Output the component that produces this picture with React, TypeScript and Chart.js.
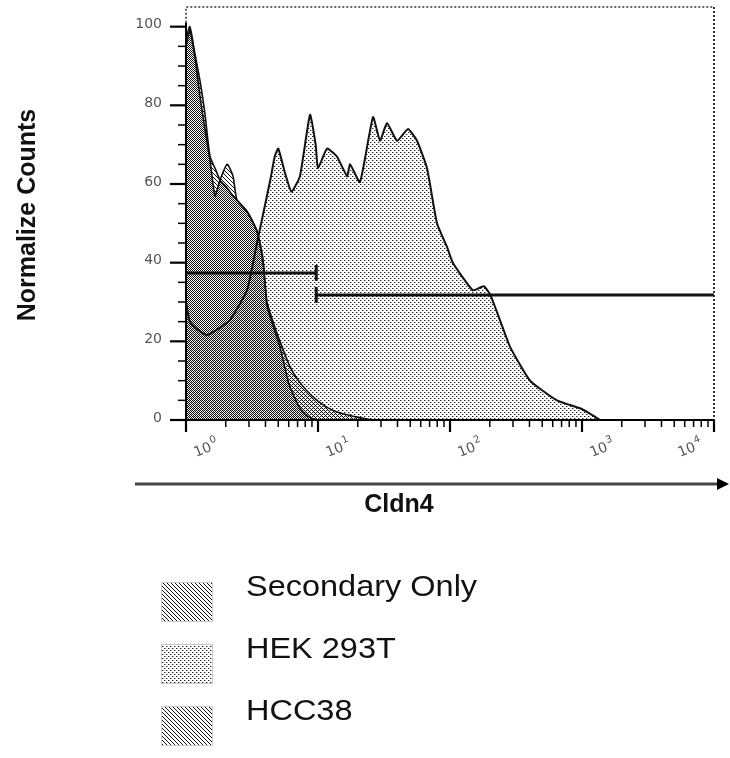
import React, { useEffect, useRef } from "react";
import { Chart, registerables } from "chart.js";

Chart.register(...registerables);

// ---- data ----
const secondaryX = [1, 1.07, 1.17, 1.28, 1.39, 1.52, 1.66, 1.81, 2.05, 2.27, 2.9, 3.45, 3.83, 4.11, 4.56, 5.15, 5.82, 6.14, 7.3, 8.2, 9.2, 10];
const secondaryY = [97, 100, 93, 86, 78, 67, 64, 61, 59, 57, 53, 48, 41, 29, 24, 18.6, 11, 8.4, 3, 1.2, 0.3, 0];

const hekX = [1, 1.07, 1.28, 1.44, 1.81, 2.15, 2.9, 3.45, 4.35, 4.7, 5.0, 5.6, 6.3, 7.3, 8.7, 9.6, 10, 11.7, 13.9, 16.6, 17.5, 20.8, 26.1, 29.5, 33.3, 39.7, 48.1, 56.2, 67, 79.7, 94.9, 105, 149, 180, 201, 239, 285, 404, 646, 966, 1100, 1368];
const hekY = [30, 25, 22.5, 21.6, 23.5, 25.4, 33, 45, 61, 67, 69, 63, 58, 62, 77.6, 70, 64, 69, 67, 62, 65, 60.5, 77, 71, 75.5, 71, 74, 71, 64, 50, 44, 40, 33, 34, 32, 25.4, 18.6, 10, 5, 3, 2, 0];

const hcc38X = [1, 1.07, 1.17, 1.28, 1.39, 1.52, 1.66, 1.81, 2.05, 2.27, 2.43, 2.9, 3.45, 3.83, 4.11, 4.56, 5.15, 6.14, 7.3, 9.16, 11.7, 14.7, 20.8, 26];
const hcc38Y = [95, 99, 92, 82, 74, 66, 57, 61, 65, 62, 56, 53, 48, 40, 30, 25, 20, 13.5, 9.5, 5.9, 3.2, 1.8, 0.6, 0];

const gateLowX = [1, 9.7];
const gateLowY = 37.4;
const gateHighX = [9.7, 10000];
const gateHighY = 31.8;

const yTickValues = [0, 20, 40, 60, 80, 100];
const yMinorStep = 5;
const xTickValues = [1, 10, 100, 1000, 10000];
const xTickExponents = ["0", "1", "2", "3", "4"];

const seriesNames = ["Secondary Only", "HEK 293T", "HCC38"];
const xTitle = "Cldn4";
const yTitle = "Normalize Counts";

// ---- patterns ----
function makePattern(size: number, paint: (c: CanvasRenderingContext2D) => void): CanvasPattern {
  const tile = document.createElement("canvas");
  tile.width = size;
  tile.height = size;
  const c = tile.getContext("2d")!;
  paint(c);
  return c.createPattern(tile, "repeat")!;
}

function toPoints(xs: number[], ys: number[]) {
  return xs.map((x, i) => ({ x, y: ys[i] }));
}

export default function App() {
  const ref = useRef<HTMLCanvasElement | null>(null);

  useEffect(() => {
    document.body.style.margin = "0";
    const canvas = ref.current!;

    const hatchA = makePattern(4, (c) => {
      c.fillStyle = "#111";
      for (let i = 0; i < 4; i++) c.fillRect(i, i, 1, 1);
    });
    const hatchC = makePattern(4, (c) => {
      c.fillStyle = "#111";
      for (let i = 0; i < 4; i++) c.fillRect(i, (i + 2) % 4, 1, 1);
    });
    const dots = makePattern(4, (c) => {
      c.fillStyle = "#222";
      c.fillRect(0, 0, 1, 1);
      c.fillRect(2, 2, 1, 1);
      c.fillStyle = "#aaa";
      c.fillRect(1, 0, 1, 1);
      c.fillRect(3, 2, 1, 1);
    });
    const legendFills = [hatchA, dots, hatchC];

    const decor = {
      id: "decor",
      afterDraw(chart: any) {
        const ctx: CanvasRenderingContext2D = chart.ctx;
        const xs = chart.scales.x;
        const ys = chart.scales.y;
        const a = chart.chartArea;
        ctx.save();

        // dotted frame (top & right)
        ctx.strokeStyle = "#333";
        ctx.lineWidth = 1.5;
        ctx.setLineDash([2, 2]);
        ctx.beginPath();
        ctx.moveTo(a.left, ys.getPixelForValue(101));
        ctx.lineTo(a.left, a.top);
        ctx.lineTo(a.right, a.top);
        ctx.stroke();
        ctx.lineWidth = 2;
        ctx.beginPath();
        ctx.moveTo(a.right, a.top);
        ctx.lineTo(a.right, a.bottom);
        ctx.stroke();
        ctx.setLineDash([]);

        // left axis
        ctx.strokeStyle = "#000";
        ctx.lineWidth = 2;
        ctx.beginPath();
        ctx.moveTo(a.left, ys.getPixelForValue(101));
        ctx.lineTo(a.left, a.bottom + 2);
        ctx.stroke();
        // bottom axis
        ctx.beginPath();
        ctx.moveTo(a.left - 1, a.bottom);
        ctx.lineTo(a.right, a.bottom);
        ctx.stroke();

        // y ticks
        for (let v = 0; v <= 100; v += yMinorStep) {
          const py = ys.getPixelForValue(v);
          const major = yTickValues.includes(v);
          ctx.lineWidth = major ? 2.2 : 1.5;
          ctx.beginPath();
          ctx.moveTo(a.left - (major ? 16 : 8), py);
          ctx.lineTo(a.left, py);
          ctx.stroke();
        }
        ctx.fillStyle = "#555";
        ctx.font = "14px 'DejaVu Sans'";
        ctx.textAlign = "right";
        ctx.textBaseline = "middle";
        yTickValues.forEach((v) => {
          ctx.fillText(String(v), a.left - 24, ys.getPixelForValue(v) - 2);
        });

        // x ticks (log, major at decades, minor 2..9)
        for (let d = 0; d < xTickValues.length; d++) {
          const base = xTickValues[d];
          const px = xs.getPixelForValue(base);
          ctx.lineWidth = 2.2;
          ctx.beginPath();
          ctx.moveTo(px, a.bottom);
          ctx.lineTo(px, a.bottom + 12);
          ctx.stroke();
          if (d < xTickValues.length - 1) {
            for (let m = 2; m <= 9; m++) {
              const mx = xs.getPixelForValue(base * m);
              ctx.lineWidth = 1.5;
              ctx.beginPath();
              ctx.moveTo(mx, a.bottom);
              ctx.lineTo(mx, a.bottom + 7);
              ctx.stroke();
            }
          }
        }
        // x tick labels
        ctx.fillStyle = "#555";
        ctx.textAlign = "left";
        ctx.textBaseline = "alphabetic";
        xTickValues.forEach((v, i) => {
          const px = xs.getPixelForValue(v);
          const off = i === xTickValues.length - 1 ? -34 : 10;
          ctx.save();
          ctx.translate(px + off, a.bottom + 37);
          ctx.rotate(-0.38);
          ctx.font = "14px 'DejaVu Sans'";
          ctx.fillText("10", 0, 0);
          const w = ctx.measureText("10").width;
          ctx.font = "10px 'DejaVu Sans'";
          ctx.fillText(xTickExponents[i], w + 1, -7);
          ctx.restore();
        });

        // arrow
        const ay = 484;
        ctx.strokeStyle = "#444";
        ctx.lineWidth = 3;
        ctx.beginPath();
        ctx.moveTo(135, ay);
        ctx.lineTo(720, ay);
        ctx.stroke();
        ctx.fillStyle = "#000";
        ctx.beginPath();
        ctx.moveTo(729, ay);
        ctx.lineTo(717, ay - 6);
        ctx.lineTo(717, ay + 6);
        ctx.closePath();
        ctx.fill();

        // titles
        ctx.fillStyle = "#111";
        ctx.font = "bold 25px 'Liberation Sans', Arial";
        ctx.textAlign = "center";
        ctx.textBaseline = "alphabetic";
        ctx.fillText(xTitle, 399, 512);
        ctx.save();
        ctx.translate(35, 215);
        ctx.rotate(-Math.PI / 2);
        ctx.fillText(yTitle, 0, 0);
        ctx.restore();

        // legend
        const boxTops = [583, 645, 707];
        const textBaselines = [596, 658, 720];
        seriesNames.forEach((name, i) => {
          const top = boxTops[i];
          ctx.fillStyle = "#fff";
          ctx.fillRect(162, top, 50, 38);
          ctx.fillStyle = legendFills[i];
          ctx.fillRect(162, top, 50, 38);
          if (i === 0) ctx.fillRect(162, top, 50, 38);
          ctx.strokeStyle = "#999";
          ctx.lineWidth = 1;
          ctx.setLineDash([1, 1]);
          ctx.strokeRect(161.5, top - 0.5, 51, 39);
          ctx.setLineDash([]);
          ctx.fillStyle = "#111";
          ctx.font = "29px 'Liberation Sans', Arial";
          ctx.textAlign = "left";
          ctx.save();
          ctx.translate(246, textBaselines[i]);
          ctx.scale(1.12, 1);
          ctx.fillText(name, 0, 0);
          ctx.restore();
        });

        ctx.restore();
      },
    };

    const chart = new Chart(canvas, {
      type: "line",
      data: {
        datasets: [
          {
            label: "gateLow",
            data: toPoints(gateLowX, gateLowX.map(() => gateLowY)),
            borderColor: "#111",
            borderWidth: 3,
            pointRadius: 0,
            fill: false,
          },
          {
            label: "gateLowCap",
            data: [
              { x: gateLowX[1], y: gateLowY - 2 },
              { x: gateLowX[1], y: gateLowY + 2 },
            ],
            borderColor: "#111",
            borderWidth: 3,
            pointRadius: 0,
            fill: false,
          },
          {
            label: "gateHigh",
            data: toPoints(gateHighX, gateHighX.map(() => gateHighY)),
            borderColor: "#111",
            borderWidth: 3,
            pointRadius: 0,
            fill: false,
          },
          {
            label: "gateHighCap",
            data: [
              { x: gateHighX[0], y: gateHighY - 2 },
              { x: gateHighX[0], y: gateHighY + 2 },
            ],
            borderColor: "#111",
            borderWidth: 3,
            pointRadius: 0,
            fill: false,
          },
          {
            label: seriesNames[2],
            data: toPoints(hcc38X, hcc38Y),
            borderColor: "#111",
            borderWidth: 1.6,
            backgroundColor: hatchC,
            fill: "origin",
            pointRadius: 0,
            tension: 0.2,
          },
          {
            label: seriesNames[0],
            data: toPoints(secondaryX, secondaryY),
            borderColor: "#111",
            borderWidth: 1.6,
            backgroundColor: hatchA,
            fill: "origin",
            pointRadius: 0,
            tension: 0.2,
          },
          {
            label: seriesNames[1],
            data: toPoints(hekX, hekY),
            borderColor: "#111",
            borderWidth: 2,
            backgroundColor: dots,
            fill: "origin",
            pointRadius: 0,
            tension: 0.15,
          },
        ],
      },
      options: {
        animation: false,
        responsive: false,
        devicePixelRatio: 1,
        layout: { padding: { left: 186, right: 16, top: 7, bottom: 338 } },
        scales: {
          x: { type: "logarithmic", min: 1, max: 10000, display: false },
          y: { type: "linear", min: 0, max: 105, display: false },
        },
        plugins: { legend: { display: false }, tooltip: { enabled: false } },
      },
      plugins: [decor],
    });

    return () => chart.destroy();
  }, []);

  return (
    <div style={{ width: 730, height: 758, background: "#fff" }}>
      <canvas ref={ref} width={730} height={758} />
    </div>
  );
}
